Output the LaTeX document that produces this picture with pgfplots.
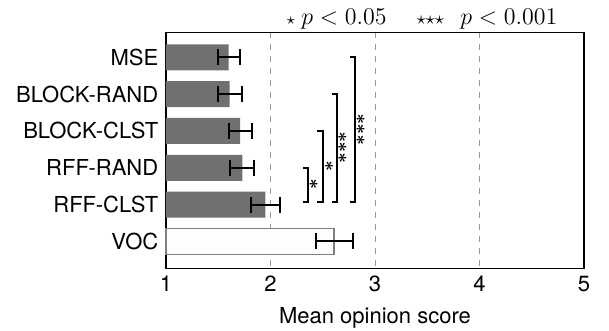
\documentclass[border=0pt]{standalone}
\usepackage{fontspec}
\setmainfont{TeX Gyre Heros}
\usepackage{pgfplots}
\pgfplotsset{compat=1.18}
\definecolor{bargray}{RGB}{112,112,112}
\definecolor{vocfill}{RGB}{253,253,251}
\definecolor{vocdraw}{RGB}{128,128,128}
\newcommand{\bst}[1]{{\fontsize{9}{10}\selectfont\boldmath$#1$}}
\begin{document}
\fontsize{11}{13}\selectfont
\begin{tikzpicture}
\begin{axis}[
 scale only axis, width=209pt, height=118pt,
 xmin=1, xmax=5, ymin=-0.68, ymax=5.73, y dir=reverse,
 xtick={1,2,3,4,5}, ytick={0,1,2,3,4,5},
 yticklabels={MSE,BLOCK-RAND,BLOCK-CLST,RFF-RAND,RFF-CLST,VOC},
 major tick length=0pt,
 xmajorgrids, grid style={dashed, gray!80, line width=0.5pt},
 axis line style={line width=0.8pt},
 xlabel={Mean opinion score},
 tick label style={font=\fontsize{11}{13}\selectfont},
 label style={font=\fontsize{11}{13}\selectfont},
 /pgf/number format/assume math mode=true,
 clip=false,
]
\addplot[xbar, bar width=13pt, bar shift=0pt, fill=bargray, draw=none,
  error bars/.cd, x dir=both, x explicit, error mark=|,
  error bar style={line width=1pt,black},
  error mark options={line width=1pt, mark size=4pt, black}]
 coordinates {
 (1.60,0) +- (0.105,0)
 (1.61,1) +- (0.115,0)
 (1.71,2) +- (0.11,0)
 (1.73,3) +- (0.115,0)
 (1.95,4) +- (0.14,0)
 };
\addplot[xbar, bar width=13pt, bar shift=0pt, fill=vocfill, draw=vocdraw, line width=0.8pt,
  error bars/.cd, x dir=both, x explicit, error mark=|,
  error bar style={line width=1pt,black},
  error mark options={line width=1pt, mark size=4pt, black}]
 coordinates {
 (2.61,5) +- (0.175,0)
 };
\addplot[black, line width=0.9pt, mark=none] coordinates {(2.314,3.0) (2.362,3.0) (2.362,3.92) (2.314,3.92)};
\addplot[black, line width=0.9pt, mark=none] coordinates {(2.447,2.0) (2.505,2.0) (2.505,3.92) (2.447,3.92)};
\addplot[black, line width=0.9pt, mark=none] coordinates {(2.585,1.0) (2.64,1.0) (2.64,3.92) (2.585,3.92)};
\addplot[black, line width=0.9pt, mark=none] coordinates {(2.76,0) (2.81,0) (2.81,3.92) (2.76,3.92)};
\node[rotate=90, inner sep=0pt] at (axis cs:2.416,3.45) {\bst{{\ast}}};
\node[rotate=90, inner sep=0pt] at (axis cs:2.563,2.96) {\bst{{\ast}}};
\node[rotate=90, inner sep=0pt] at (axis cs:2.69,2.45) {\bst{{\ast}{\ast}{\ast}}};
\node[rotate=90, inner sep=0pt] at (axis cs:2.866,1.96) {\bst{{\ast}{\ast}{\ast}}};
\node[anchor=base, inner sep=0pt, font=\fontsize{11.6}{13}\selectfont] at (axis cs:2.196,-0.88) {$\scriptstyle\star$};
\node[anchor=base west, inner sep=0pt, font=\fontsize{11.6}{13}\selectfont] at (axis cs:2.292,-0.88) {$p<0.05$};
\node[anchor=base, inner sep=0pt, font=\fontsize{12.6}{14}\selectfont] at (axis cs:3.53,-0.88) {$\scriptstyle{\star}{\star}{\star}$};
\node[anchor=base west, inner sep=0pt, font=\fontsize{12.6}{14}\selectfont] at (axis cs:3.813,-0.88) {$p<0.001$};
\end{axis}
\pgfresetboundingbox
\path ([shift={(-83pt,-31.35pt)}]current axis.south west) rectangle ([shift={(221.5pt,134.15pt)}]current axis.south west);
\end{tikzpicture}
\end{document}
